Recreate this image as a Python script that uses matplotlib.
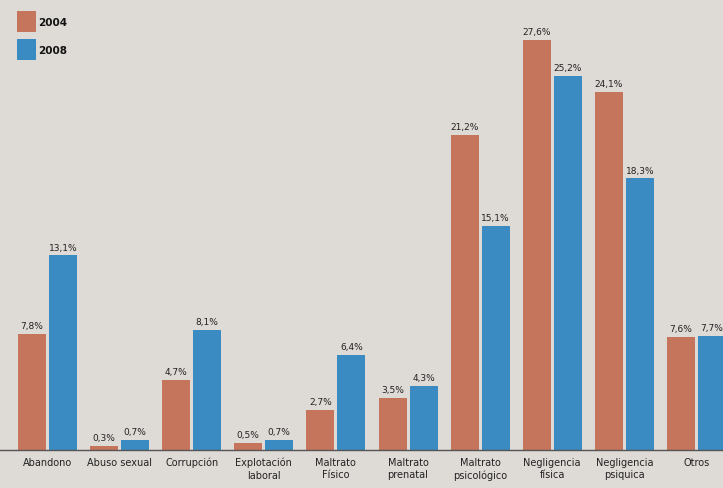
import matplotlib
matplotlib.use("Agg")
import matplotlib.pyplot as plt
import numpy as np
from matplotlib.patches import Rectangle

categories = ["Abandono", "Abuso sexual", "Corrupción", "Explotación\nlaboral",
              "Maltrato\nFísico", "Maltrato\nprenatal", "Maltrato\npsicológico",
              "Negligencia\nfísica", "Negligencia\npsiquica", "Otros"]
v2004 = [7.8, 0.3, 4.7, 0.5, 2.7, 3.5, 21.2, 27.6, 24.1, 7.6]
v2008 = [13.1, 0.7, 8.1, 0.7, 6.4, 4.3, 15.1, 25.2, 18.3, 7.7]
series_names = ["2004", "2008"]

c2004 = "#c4755c"
c2008 = "#3a8bc2"
bg = "#dedad6"

W, H = 723, 489
fig = plt.figure(figsize=(W / 100, H / 100), dpi=100)
fig.patch.set_facecolor(bg)
ax = fig.add_axes([0, 38 / H, 1, 451 / H])
ax.set_facecolor(bg)

pitch = 72.1
x = np.arange(len(categories))
off = 15.5 / pitch
bw = 28 / pitch

ax.bar(x - off, v2004, bw, color=c2004)
ax.bar(x + off, v2008, bw, color=c2008)

def fmt(v):
    return f"{v:.1f}%".replace(".", ",")

for xi, a, b in zip(x, v2004, v2008):
    ax.text(xi - off, a + 0.25, fmt(a), ha="center", va="bottom", fontsize=6.5, color="#222222")
    ax.text(xi + off, b + 0.25, fmt(b), ha="center", va="bottom", fontsize=6.5, color="#222222")

ax.set_xlim(-47.5 / pitch, (W - 47.5) / pitch)
ax.set_ylim(0, 451 / 14.85)
for s in ["top", "right", "left"]:
    ax.spines[s].set_visible(False)
ax.spines["bottom"].set_color("#555555")
ax.spines["bottom"].set_linewidth(1.0)
ax.set_yticks([])
ax.set_xticks(x)
ax.set_xticklabels(categories, fontsize=7, color="#222222", linespacing=1.3)
ax.tick_params(axis="x", length=0, pad=5)

# legend
fig.patches.append(Rectangle((17 / W, 1 - 33 / H), 19 / W, 21 / H, transform=fig.transFigure,
                             facecolor=c2004, edgecolor="none"))
fig.patches.append(Rectangle((17 / W, 1 - 61 / H), 19 / W, 21 / H, transform=fig.transFigure,
                             facecolor=c2008, edgecolor="none"))
fig.text(38 / W, 1 - 23 / H, series_names[0], fontsize=7.5, fontweight="bold", va="center", color="#111111")
fig.text(38 / W, 1 - 51 / H, series_names[1], fontsize=7.5, fontweight="bold", va="center", color="#111111")

fig.savefig("out.png", dpi=100, facecolor=bg)
